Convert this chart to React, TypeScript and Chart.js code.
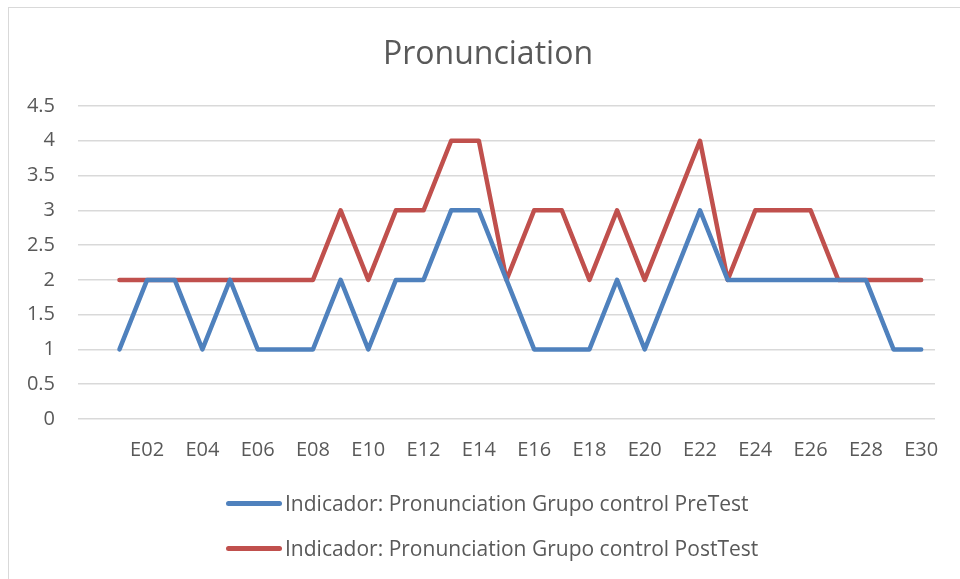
import { useEffect, useRef } from 'react';
import { Chart, registerables } from 'chart.js';

Chart.register(...registerables);

const titleText = 'Pronunciation';
const categories = [
  '', 'E01', 'E02', 'E03', 'E04', 'E05', 'E06', 'E07', 'E08', 'E09', 'E10',
  'E11', 'E12', 'E13', 'E14', 'E15', 'E16', 'E17', 'E18', 'E19', 'E20',
  'E21', 'E22', 'E23', 'E24', 'E25', 'E26', 'E27', 'E28', 'E29', 'E30',
];
const preTest = [
  null, 1, 2, 2, 1, 2, 1, 1, 1, 2, 1,
  2, 2, 3, 3, 2, 1, 1, 1, 2, 1,
  2, 3, 2, 2, 2, 2, 2, 2, 1, 1,
];
const postTest = [
  null, 2, 2, 2, 2, 2, 2, 2, 2, 3, 2,
  3, 3, 4, 4, 2, 3, 3, 2, 3, 2,
  3, 4, 2, 3, 3, 3, 2, 2, 2, 2,
];
const seriesNames = [
  'Indicador: Pronunciation Grupo control PreTest',
  'Indicador: Pronunciation Grupo control PostTest',
];
const seriesColors = ['#4f81bd', '#c0504d'];
const yMin = 0;
const yMax = 4.5;
const yStep = 0.5;

const W = 960;
const H = 579;
const FONT = '"Open Sans", sans-serif';
const TEXT = '#595959';
const GRID = '#d9d9d9';

export default function App() {
  const ref = useRef<HTMLCanvasElement>(null);

  useEffect(() => {
    const series = [preTest, postTest];
    const chart = new Chart(ref.current as HTMLCanvasElement, {
      type: 'line',
      data: {
        labels: categories,
        datasets: series.map((d, i) => ({
          label: seriesNames[i],
          data: d,
          borderColor: seriesColors[i],
          backgroundColor: seriesColors[i],
          borderWidth: 4.5,
          pointRadius: 0,
          pointHoverRadius: 0,
          borderCapStyle: 'round' as const,
          borderJoinStyle: 'round' as const,
          tension: 0,
          spanGaps: false,
        })),
      },
      options: {
        responsive: false,
        animation: false,
        layout: { padding: { left: 0, right: 25, top: 106, bottom: 0 } },
        plugins: {
          legend: { display: false },
          title: { display: false },
          tooltip: { enabled: false },
        },
        scales: {
          x: {
            type: 'category',
            offset: true,
            grid: { display: false, drawTicks: false },
            border: { display: false },
            ticks: {
              autoSkip: false,
              maxRotation: 0,
              minRotation: 0,
              padding: 19,
              color: TEXT,
              font: { family: FONT, size: 20 },
              callback: (_v: any, i: number) => (i % 2 === 0 ? categories[i] : ''),
            },
            afterFit: (s: any) => {
              s.height = 160;
            },
          },
          y: {
            min: yMin,
            max: yMax,
            ticks: {
              stepSize: yStep,
              padding: 23,
              color: TEXT,
              font: { family: FONT, size: 20 },
              callback: (v: any) => String(Math.round(Number(v) * 10) / 10),
            },
            grid: { color: GRID, lineWidth: 1.5, drawTicks: false },
            border: { display: false },
            afterFit: (s: any) => {
              s.width = 78;
            },
          },
        },
      },
    });
    return () => chart.destroy();
  }, []);

  return (
    <div
      style={{
        position: 'fixed',
        left: 0,
        top: 0,
        width: W,
        height: H,
        overflow: 'hidden',
        background: '#fff',
        fontFamily: FONT,
      }}
    >
      <div
        style={{
          position: 'absolute',
          left: 8,
          top: 7,
          width: 2000,
          height: 2000,
          borderLeft: `1px solid ${GRID}`,
          borderTop: `1px solid ${GRID}`,
        }}
      />
      <canvas
        ref={ref}
        width={W}
        height={H}
        style={{ position: 'absolute', left: 0, top: 0, width: W, height: H }}
      />
      <div
        style={{
          position: 'absolute',
          left: 0,
          width: 976,
          top: 33,
          textAlign: 'center',
          fontSize: 32,
          lineHeight: '38px',
          color: TEXT,
        }}
      >
        {titleText}
      </div>
      {seriesNames.map((name, i) => (
        <div
          key={name}
          style={{
            position: 'absolute',
            left: 226,
            top: i === 0 ? 489 : 534,
            height: 28,
            display: 'flex',
            alignItems: 'center',
            whiteSpace: 'nowrap',
          }}
        >
          <div
            style={{
              width: 56,
              height: 5,
              borderRadius: 3,
              background: seriesColors[i],
              marginRight: 3,
            }}
          />
          <span style={{ fontSize: 21, color: TEXT }}>{name}</span>
        </div>
      ))}
    </div>
  );
}
